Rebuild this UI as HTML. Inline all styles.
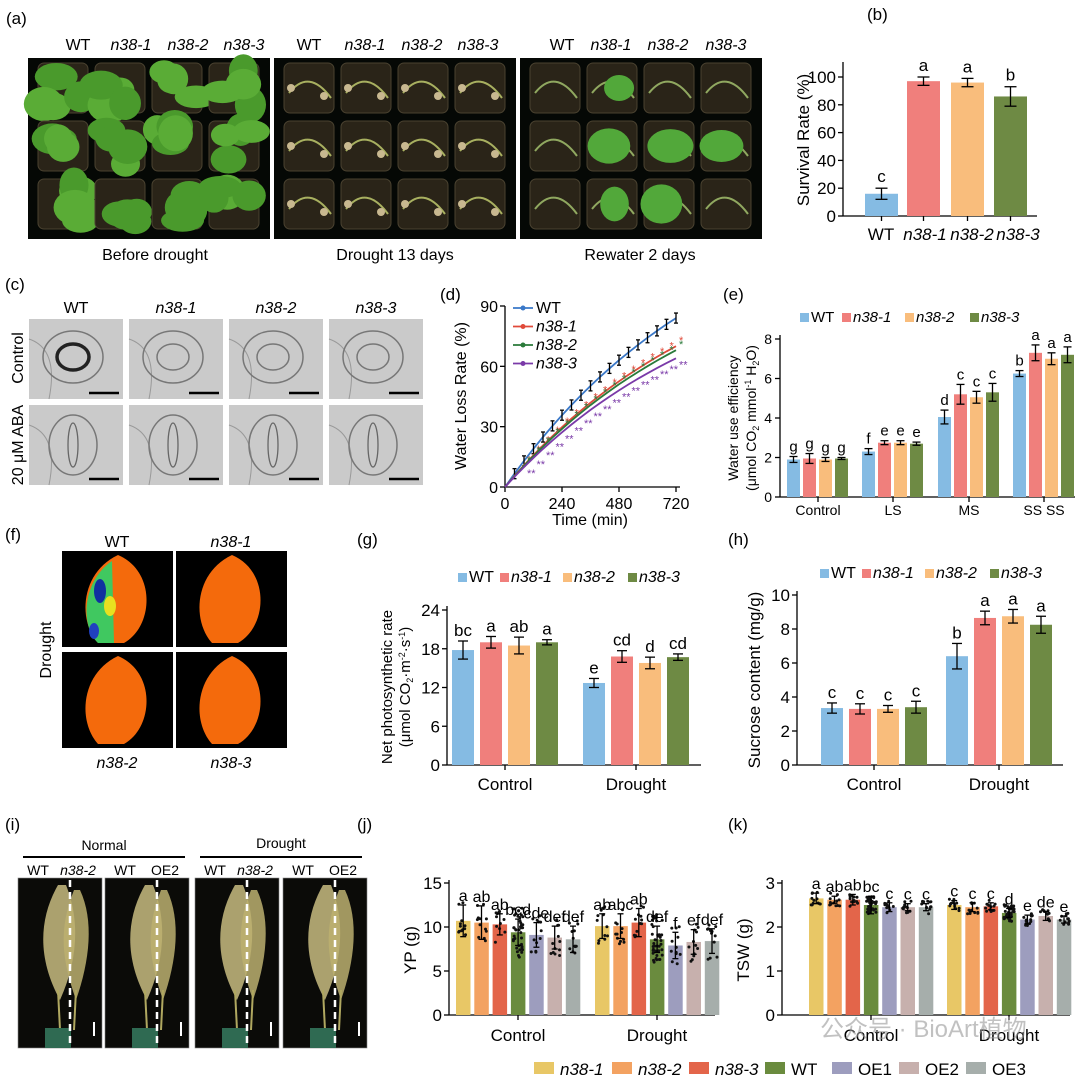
<!DOCTYPE html>
<html><head><meta charset="utf-8"><style>
body{margin:0;background:#fff}
svg{display:block;font-family:"Liberation Sans",Arial,sans-serif}
</style></head><body>
<svg id="s" width="1080" height="1082" viewBox="0 0 1080 1082" xmlns="http://www.w3.org/2000/svg">
<g font-size="17" fill="#000">
<text x="6" y="24">(a)</text><text x="867" y="20">(b)</text>
<text x="5" y="290">(c)</text><text x="440" y="300">(d)</text><text x="723" y="300">(e)</text>
<text x="5" y="540">(f)</text><text x="357" y="545">(g)</text><text x="728" y="545">(h)</text>
<text x="5" y="830">(i)</text><text x="357" y="830">(j)</text><text x="728" y="830">(k)</text>
</g>
<g font-size="16" text-anchor="middle">
<text x="78" y="50">WT</text><text x="131" y="50" font-style="italic">n38-1</text><text x="188" y="50" font-style="italic">n38-2</text><text x="244" y="50" font-style="italic">n38-3</text>
<text x="309" y="50">WT</text><text x="365" y="50" font-style="italic">n38-1</text><text x="422" y="50" font-style="italic">n38-2</text><text x="478" y="50" font-style="italic">n38-3</text>
<text x="562" y="50">WT</text><text x="611" y="50" font-style="italic">n38-1</text><text x="668" y="50" font-style="italic">n38-2</text><text x="726" y="50" font-style="italic">n38-3</text>
<text x="155" y="260">Before drought</text><text x="395" y="260">Drought 13 days</text><text x="640" y="260">Rewater 2 days</text>
</g>
<g id="photos"></g>
<g id="charts"></g>
</svg>
<script>
var P=document.getElementById('photos'),C=document.getElementById('charts');
var h1='',h2='';
function r(x,y,w,h,f,ex){return '<rect x="'+x+'" y="'+y+'" width="'+w+'" height="'+h+'" fill="'+f+'" '+(ex||'')+'/>';}
function t(x,y,s,o){return '<text x="'+x+'" y="'+y+'" '+(o||'')+'>'+s+'</text>';}
function l(x1,y1,x2,y2,c,w,ex){return '<line x1="'+x1+'" y1="'+y1+'" x2="'+x2+'" y2="'+y2+'" stroke="'+(c||'#000')+'" stroke-width="'+(w||1.3)+'" '+(ex||'')+'/>';}
var seed=3;function rnd(){seed=(seed*9301+49297)%233280;return seed/233280;}
var px=[28,274,520];
px.forEach(function(x0,k){
 h1+=r(x0,58,242,181,'#050805');
 for(var i=0;i<4;i++)for(var j=0;j<3;j++){
  var cx=x0+35+i*57,cy=88+j*58;
  h1+=r(cx-25,cy-25,50,50,'#2a2418','rx="6" stroke="#4a4230" stroke-width="1"');
  if(k==0){for(var m=0;m<4;m++)h1+='<ellipse cx="'+(cx+(rnd()-0.5)*40)+'" cy="'+(cy+(rnd()-0.5)*40)+'" rx="'+(14+rnd()*8)+'" ry="'+(11+rnd()*7)+'" fill="'+(rnd()>0.5?'#4a9a2c':'#5aac36')+'"/>';}
  else if(k==1){h1+='<path d="M'+(cx-20)+' '+(cy+5)+' Q'+cx+' '+(cy-20)+' '+(cx+22)+' '+(cy+10)+'" stroke="#a8b060" stroke-width="2" fill="none"/>'+'<circle cx="'+(cx-18)+'" cy="'+cy+'" r="4" fill="#c8b890"/><circle cx="'+(cx+15)+'" cy="'+(cy+8)+'" r="4" fill="#c8b890"/>';}
  else{h1+='<path d="M'+(cx-20)+' '+(cy+5)+' Q'+cx+' '+(cy-20)+' '+(cx+22)+' '+(cy+10)+'" stroke="#90a860" stroke-width="2" fill="none"/>';if(i>0&&rnd()>0.3)h1+='<ellipse cx="'+(cx+(rnd()-0.5)*20)+'" cy="'+cy+'" rx="'+(14+rnd()*10)+'" ry="'+(12+rnd()*8)+'" fill="#52a83a"/>';}
 }
});
var ch=['WT','n38-1','n38-2','n38-3'];
for(var i=0;i<4;i++){
 var x=29+i*100;
 h1+=t(x+47,313,ch[i],'font-size="16" text-anchor="middle" '+(i?'font-style="italic"':''));
 for(var j=0;j<2;j++){
  var y=j?405:319;
  h1+=r(x,y,94,80,'#cacaca');
  h1+='<path d="M'+x+' '+(y+20)+' Q'+(x+30)+' '+(y+30)+' '+(x+20)+' '+(y+80)+'" stroke="#999" fill="none"/>';
  if(j==0){h1+='<ellipse cx="'+(x+44)+'" cy="'+(y+38)+'" rx="30" ry="26" fill="none" stroke="#777" stroke-width="1.5"/><ellipse cx="'+(x+44)+'" cy="'+(y+38)+'" rx="16" ry="13" fill="none" stroke="'+(i?'#777':'#222')+'" stroke-width="'+(i?1.5:3.5)+'"/>';}
  else{h1+='<ellipse cx="'+(x+44)+'" cy="'+(y+40)+'" rx="24" ry="30" fill="none" stroke="#777" stroke-width="1.5"/><ellipse cx="'+(x+44)+'" cy="'+(y+40)+'" rx="5" ry="22" fill="none" stroke="#666" stroke-width="1.3"/>';}
  h1+=l(x+60,y+74,x+90,y+74,'#000',2.5);
 }
}
h1+=t(0,0,'Control','font-size="16" text-anchor="middle" transform="translate(23,358) rotate(-90)"');
h1+=t(0,0,'20 μM ABA','font-size="16" text-anchor="middle" transform="translate(23,445) rotate(-90)"');
var fb=[[62,551],[176,551],[62,652],[176,652]];
fb.forEach(function(b,k){
 h1+=r(b[0],b[1],111,96,'#000');
 var cx=b[0]+56,cy=b[1]+48;
 h1+='<path d="M'+cx+' '+(b[1]+4)+' C'+(cx+38)+' '+(b[1]+20)+' '+(cx+36)+' '+(b[1]+75)+' '+(cx+6)+' '+(b[1]+92)+' L'+(cx-20)+' '+(b[1]+92)+' C'+(cx-40)+' '+(b[1]+70)+' '+(cx-38)+' '+(b[1]+22)+' '+cx+' '+(b[1]+4)+'Z" fill="#f46a0c"/>';
 if(k==0){h1+='<path d="M'+(cx-6)+' '+(b[1]+10)+' C'+(cx-36)+' '+(b[1]+30)+' '+(cx-38)+' '+(b[1]+75)+' '+(cx-20)+' '+(b[1]+92)+' L'+(cx-4)+' '+(b[1]+92)+' Z" fill="#40c860"/><ellipse cx="'+(cx-18)+'" cy="'+(b[1]+40)+'" rx="6" ry="12" fill="#1030a0"/><ellipse cx="'+(cx-24)+'" cy="'+(b[1]+80)+'" rx="5" ry="8" fill="#2040c0"/><ellipse cx="'+(cx-8)+'" cy="'+(b[1]+55)+'" rx="6" ry="10" fill="#e8e020"/>';}
});
h1+=t(117,547,'WT','font-size="16" text-anchor="middle"')+t(231,547,'n38-1','font-size="16" text-anchor="middle" font-style="italic"');
h1+=t(117,768,'n38-2','font-size="16" text-anchor="middle" font-style="italic"')+t(231,768,'n38-3','font-size="16" text-anchor="middle" font-style="italic"');
h1+=t(0,0,'Drought','font-size="16" text-anchor="middle" transform="translate(51,650) rotate(-90)"');
var ib=[18,105,195,283];var il=[['WT','n38-2'],['WT','OE2'],['WT','n38-2'],['WT','OE2']];
ib.forEach(function(x,k){
 h1+=r(x,878,84,170,'#0b0b08','stroke="#888" stroke-width="0.6"');
 h1+='<path d="M'+(x+40)+' 885 C'+(x+20)+' 920 '+(x+20)+' 960 '+(x+42)+' 1000 C'+(x+60)+' 960 '+(x+62)+' 920 '+(x+48)+' 885Z" fill="#c8bc80" opacity="0.85"/>';
 h1+='<path d="M'+(x+56)+' 890 C'+(x+40)+' 930 '+(x+44)+' 960 '+(x+58)+' 1000 C'+(x+72)+' 960 '+(x+76)+' 920 '+(x+62)+' 890Z" fill="#bcb070" opacity="0.85"/>';
 h1+=l(x+40,990,x+42,1030,'#b0a860',2)+l(x+58,990,x+56,1030,'#b0a860',2);
 h1+=r(x+27,1028,26,20,'#2f6a52');
 h1+=l(x+52,880,x+52,1048,'#fff',2.5,'stroke-dasharray="7,5"');
 h1+=l(x+76,1022,x+76,1036,'#fff',2);
 h1+=t(x+20,875,il[k][0],'font-size="14" text-anchor="middle"')+t(x+60,875,il[k][1],'font-size="14" text-anchor="middle" '+(il[k][1]=='OE2'?'':'font-style="italic"'));
});
h1+=l(23,857,185,857,'#000',2)+l(200,857,362,857,'#000',2);
h1+=t(104,850,'Normal','font-size="14" text-anchor="middle"')+t(281,848,'Drought','font-size="14" text-anchor="middle"');
P.innerHTML=h1;

var COL=['#85bbe3','#f07f7c','#f9bd7c','#6e8a44'];
function eb(x,ya,yb,w){w=w||5;return l(x,ya,x,yb,'#000',1.3)+l(x-w,ya,x+w,ya,'#000',1.3)+l(x-w,yb,x+w,yb,'#000',1.3);}
function legend4(x,y,fs){var names=['WT','n38-1','n38-2','n38-3'];var s='';var ws=[0,42,105,170];names.forEach(function(n,i){s+=r(x+ws[i],y-9,9,9,COL[i])+t(x+ws[i]+11,y,n,'font-size="'+fs+'" '+(i?'font-style="italic"':''));});return s;}
function bAxis(){var y0=216,y100=77;var s=l(843,216,843,62);[0,20,40,60,80,100].forEach(function(v){var y=y0-(y0-y100)*v/100;s+=l(838,y,843,y)+t(836,y+6,v,'font-size="17" text-anchor="end"');});return s;}
h2+=bAxis()+l(843,216,1037,216);
var bv=[16,97,96,86],be=[4,3,3,7],bl=['c','a','a','b'],bx=[865,907,951,994];
bv.forEach(function(v,i){var y=216-139*v/100;h2+=r(bx[i],y,33,216-y,COL[i]);h2+=eb(bx[i]+16.5,216-139*(v+be[i])/100,216-139*(v-be[i])/100,6);h2+=t(bx[i]+16.5,216-139*(v+be[i])/100-6,bl[i],'font-size="17" text-anchor="middle"');h2+=l(bx[i]+16.5,216,bx[i]+16.5,221);});
h2+=t(881,240,'WT','font-size="17" text-anchor="middle"')+t(925,240,'n38-1','font-size="17" text-anchor="middle" font-style="italic"')+t(972,240,'n38-2','font-size="17" text-anchor="middle" font-style="italic"')+t(1018,240,'n38-3','font-size="17" text-anchor="middle" font-style="italic"');
h2+=t(0,0,'Survival Rate (%)','font-size="17" text-anchor="middle" transform="translate(809,140) rotate(-90)"');
(function(){var x0=505,y0=487,ky=(487-306)/90,kx=(676-505)/720;
h2+=l(x0,y0,x0,306)+l(x0,y0,680,y0);
[0,30,60,90].forEach(function(v){var y=y0-ky*v;h2+=l(x0-5,y,x0,y)+t(x0-7,y+6,v,'font-size="16" text-anchor="end"');});
[0,240,480,720].forEach(function(v){var x=x0+kx*v;h2+=l(x,y0,x,y0+5)+t(x,y0+22,v,'font-size="16" text-anchor="middle"');});
h2+=t(590,525,'Time (min)','font-size="16" text-anchor="middle"');
h2+=t(0,0,'Water Loss Rate (%)','font-size="16" text-anchor="middle" transform="translate(466,396) rotate(-90)"');
var fin=[84,70,68,64],dc=['#3a78c8','#e04a3a','#2a7a3a','#7a3aa8'],nm=['WT','n38-1','n38-2','n38-3'];
fin.forEach(function(F,i){var kk=900,A=F/(1-Math.exp(-720/kk));var pts=[],s='';for(var tt=0;tt<=720;tt+=40){var v=A*(1-Math.exp(-tt/kk));var x=x0+kx*tt,y=y0-ky*v;pts.push(x.toFixed(1)+','+y.toFixed(1));if(i==0&&tt>0)s+=eb(x,y-ky*2.5,y+ky*2.5,2);if(i>0&&tt>=80)s+=t(x+3,y+(i==3?10:-2),i==3?'**':'*','font-size="11" fill="'+dc[i]+'"');}
h2+='<polyline points="'+pts.join(' ')+'" fill="none" stroke="'+dc[i]+'" stroke-width="1.8"/>'+s;
var ly=313+i*18.5;h2+=l(513,ly-5,533,ly-5,dc[i],1.8)+'<circle cx="523" cy="'+(ly-5)+'" r="2.5" fill="'+dc[i]+'"/>'+t(536,ly,nm[i],'font-size="16" '+(i?'font-style="italic"':''));});
})();
(function(){var y0=497,k=(497-339)/8;h2+=l(780,y0,780,335)+l(780,y0,1075,y0);
[0,2,4,6,8].forEach(function(v){var y=y0-k*v;h2+=l(775,y,780,y)+t(772,y+5,v,'font-size="14" text-anchor="end"');});
var gx=[787,862,938,1013],gn=['Control','LS','MS','SS SS'];
var V=[[1.9,1.95,1.9,1.95],[2.3,2.75,2.75,2.7],[4.05,5.2,5.05,5.3],[6.25,7.3,7.0,7.2]],E=[[0.15,0.25,0.1,0.05],[0.15,0.1,0.1,0.08],[0.35,0.5,0.3,0.45],[0.15,0.4,0.3,0.4]],L=[['g','g','g','g'],['f','e','e','e'],['d','c','c','c'],['b','a','a','a']];
gx.forEach(function(g,gi){for(var i=0;i<4;i++){var x=g+i*16,v=V[gi][i],y=y0-k*v;h2+=r(x,y,13,y0-y,COL[i])+eb(x+6.5,y-k*E[gi][i],y+k*E[gi][i],4)+t(x+6.5,y-k*E[gi][i]-5,L[gi][i],'font-size="15" text-anchor="middle"');}h2+=l(g+31,y0,g+31,y0+5)+t(g+31,y0+18,gn[gi],'font-size="14" text-anchor="middle"');});
h2+=legend4(800,322,15);
h2+=t(0,0,'Water use efficiency','font-size="14" text-anchor="middle" transform="translate(738,418) rotate(-90)"');
h2+='<text font-size="14" text-anchor="middle" transform="translate(756,418) rotate(-90)">(μmol CO<tspan font-size="9" dy="3">2</tspan><tspan dy="-3"> mmol</tspan><tspan font-size="9" dy="-5">-1</tspan><tspan dy="5"> H</tspan><tspan font-size="9" dy="3">2</tspan><tspan dy="-3">O)</tspan></text>';
})();
function grp(ax,yTop,vmax,ticks,g0,g1,V,E,L,xend){var y0=765,k=(y0-yTop)/vmax;var s=l(ax,y0,ax,yTop-4)+l(ax,y0,xend,y0);
ticks.forEach(function(v){var y=y0-k*v;s+=l(ax-5,y,ax,y)+t(ax-7,y+6,v,'font-size="17" text-anchor="end"');});
[g0,g1].forEach(function(g,gi){for(var i=0;i<4;i++){var x=g+i*28,v=V[gi][i],y=y0-k*v;s+=r(x,y,22,y0-y,COL[i])+eb(x+11,y-k*E[gi][i],y+k*E[gi][i],5)+t(x+11,y-k*E[gi][i]-5,L[gi][i],'font-size="17" text-anchor="middle"');}s+=l(g+53,y0,g+53,y0+5)+t(g+53,y0+25,gi?'Drought':'Control','font-size="17" text-anchor="middle"');});return s;}
h2+=grp(447,610,24,[0,6,12,18,24],452,583,[[17.8,19,18.5,19],[12.7,16.8,15.8,16.7]],[[1.4,0.9,1.3,0.4],[0.7,0.9,0.9,0.5]],[['bc','a','ab','a'],['e','cd','d','cd']],701);
h2+=legend4(458,582,16);
h2+=t(0,0,'Net photosynthetic rate','font-size="15" text-anchor="middle" transform="translate(392,687) rotate(-90)"');
h2+='<text font-size="15" text-anchor="middle" transform="translate(410,687) rotate(-90)">(μmol CO<tspan font-size="9" dy="3">2</tspan><tspan dy="-3">·m</tspan><tspan font-size="9" dy="-5">-2</tspan><tspan dy="5">·s</tspan><tspan font-size="9" dy="-5">-1</tspan><tspan dy="5">)</tspan></text>';
h2+=grp(797,595,10,[0,2,4,6,8,10],821,946,[[3.35,3.3,3.3,3.4],[6.4,8.65,8.75,8.25]],[[0.3,0.3,0.2,0.35],[0.75,0.4,0.4,0.5]],[['c','c','c','c'],['b','a','a','a']],1063);
h2+=legend4(820,578,16);
h2+=t(0,0,'Sucrose content (mg/g)','font-size="17" text-anchor="middle" transform="translate(760,680) rotate(-90)"');
var C7=['#e8c766','#f3a261','#e3654a','#6a8b3e','#9d9dbe','#c7b0ad','#a6aeab'];
function yp(ax,yTop,vmax,ticks,g0,g1,V,E,L,xend,lab,spread){var y0=1015,k=(y0-yTop)/vmax;var s=l(ax,y0,ax,yTop-3)+l(ax,y0,xend,y0);
ticks.forEach(function(v){var y=y0-k*v;s+=l(ax-5,y,ax,y)+t(ax-7,y+6,v,'font-size="17" text-anchor="end"');});
[g0,g1].forEach(function(g,gi){for(var i=0;i<7;i++){var x=g+i*18.3,v=V[gi][i],y=y0-k*v;s+=r(x,y,14.5,y0-y,C7[i]);var n=i==3?40:12;for(var m=0;m<n;m++){s+='<circle cx="'+(x+2+rnd()*10.5).toFixed(1)+'" cy="'+(y+(rnd()-0.5)*2*k*spread*(i==3?1.3:1)).toFixed(1)+'" r="1.5" fill="#111"/>';}s+=eb(x+7.2,y-k*E[gi][i],y+k*E[gi][i],3)+t(x+7.2,y-k*E[gi][i]-4,L[gi][i],'font-size="16" text-anchor="middle"');}s+=l(g+62,y0,g+62,y0+5)+t(g+62,y0+26,gi?'Drought':'Control','font-size="17" text-anchor="middle"');});
s+=t(0,0,lab,'font-size="17" text-anchor="middle" transform="translate('+(ax-33)+',950) rotate(-90)"');return s;}
h2+=yp(449,883,15,[0,5,10,15],456,595,[[10.7,10.5,10.3,9.4,9.1,8.8,8.6],[10.1,10.1,10.5,8.6,7.9,8.3,8.4]],[[1.8,1.9,1.2,1.5,1.4,1.3,1.5],[1.4,1.4,1.6,1.5,1.5,1.4,1.4]],[['a','ab','ab','bcd','cde','def','def'],['ab','abc','ab','def','f','ef','def']],715,'YP (g)',2.2);
h2+=yp(782,883,3,[0,1,2,3],809,947,[[2.65,2.62,2.62,2.5,2.45,2.45,2.45],[2.5,2.45,2.47,2.32,2.17,2.25,2.17]],[[0.12,0.08,0.12,0.2,0.1,0.08,0.08],[0.1,0.1,0.08,0.1,0.1,0.1,0.08]],[['a','ab','ab','bc','c','c','c'],['c','c','c','d','e','de','e']],1070,'TSW (g)',0.15);
var ln=['n38-1','n38-2','n38-3','WT','OE1','OE2','OE3'],lx=[534,612,689,765,832,899,966];
ln.forEach(function(n,i){h2+=r(lx[i],1062,20,12,C7[i])+t(lx[i]+26,1075,n,'font-size="17" '+(i<3?'font-style="italic"':''));});
h2+=t(820,1037,'公众号 · BioArt植物','font-size="24" fill="#999" opacity="0.6" font-family="Liberation Sans,Noto Sans CJK SC,sans-serif"');
C.innerHTML=h2;
</script>
</body></html>
